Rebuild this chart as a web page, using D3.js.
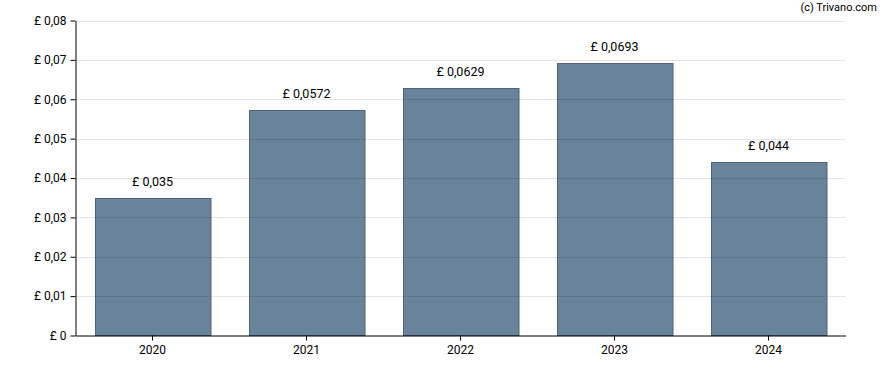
<!DOCTYPE html>
<html><head><meta charset="utf-8">
<script src="https://cdn.jsdelivr.net/npm/d3@7"></script>
<style>body{margin:0;background:#fff}svg{display:block}text{font-family:Roboto,"Noto Sans",sans-serif}</style>
</head><body><svg id="c" width="888" height="370"></svg>
<script>
const years = ["2020","2021","2022","2023","2024"];
const values = [0.035, 0.0572, 0.0629, 0.0693, 0.044];
const labels = ["£ 0,035","£ 0,0572","£ 0,0629","£ 0,0693","£ 0,044"];
const yTicks = [0,0.01,0.02,0.03,0.04,0.05,0.06,0.07,0.08];
const yTickLabels = ["£ 0","£ 0,01","£ 0,02","£ 0,03","£ 0,04","£ 0,05","£ 0,06","£ 0,07","£ 0,08"];

const svg = d3.select("#c");
const m = {l:75.5, r:845.5, t:20.5, b:335.5};
const x = d3.scaleBand().domain(years).range([m.l, m.r]).paddingInner(0.25).paddingOuter(0.125);
const y = d3.scaleLinear().domain([0,0.08]).range([m.b, m.t]);

svg.append("g").selectAll("rect").data(values).join("rect")
  .attr("x", (d,i)=>Math.round(x(years[i]))+0.5)
  .attr("y", d=>Math.round(y(d))+0.5)
  .attr("width", x.bandwidth())
  .attr("height", d=>m.b-Math.round(y(d))-0.5)
  .attr("fill","#68839a").attr("stroke","#4a657d").attr("stroke-width",1);

svg.append("g").selectAll("line").data(yTicks.slice(1)).join("line")
  .attr("x1", m.l).attr("x2", m.r)
  .attr("y1", d=>Math.round(y(d))+0.5).attr("y2", d=>Math.round(y(d))+0.5)
  .attr("stroke","#000").attr("stroke-opacity",0.1);

const ya = svg.append("g").attr("transform",`translate(${m.l},0)`)
  .call(d3.axisLeft(y).tickValues(yTicks).tickFormat((d,i)=>yTickLabels[i]).tickSize(5).tickSizeOuter(0));
ya.select(".domain").attr("stroke","#000");
ya.selectAll("text").attr("font-size",12).attr("fill","#000").attr("dx",-1);

const xa = svg.append("g").attr("transform",`translate(0,${m.b})`)
  .call(d3.axisBottom(x).tickSize(5).tickSizeOuter(0));
xa.select(".domain").attr("stroke","#000");
xa.selectAll("text").attr("font-size",12).attr("fill","#000").attr("dy","0.9em");

svg.append("g").selectAll("text").data(values).join("text")
  .attr("x",(d,i)=>x(years[i])+x.bandwidth()/2)
  .attr("y",d=>y(d)-12)
  .attr("text-anchor","middle").attr("font-size",12.5).attr("fill","#000")
  .text((d,i)=>labels[i]);

svg.append("text").attr("x",877).attr("y",11).attr("text-anchor","end")
  .attr("font-size",11).attr("fill","#000").text("(c) Trivano.com");
</script></body></html>
